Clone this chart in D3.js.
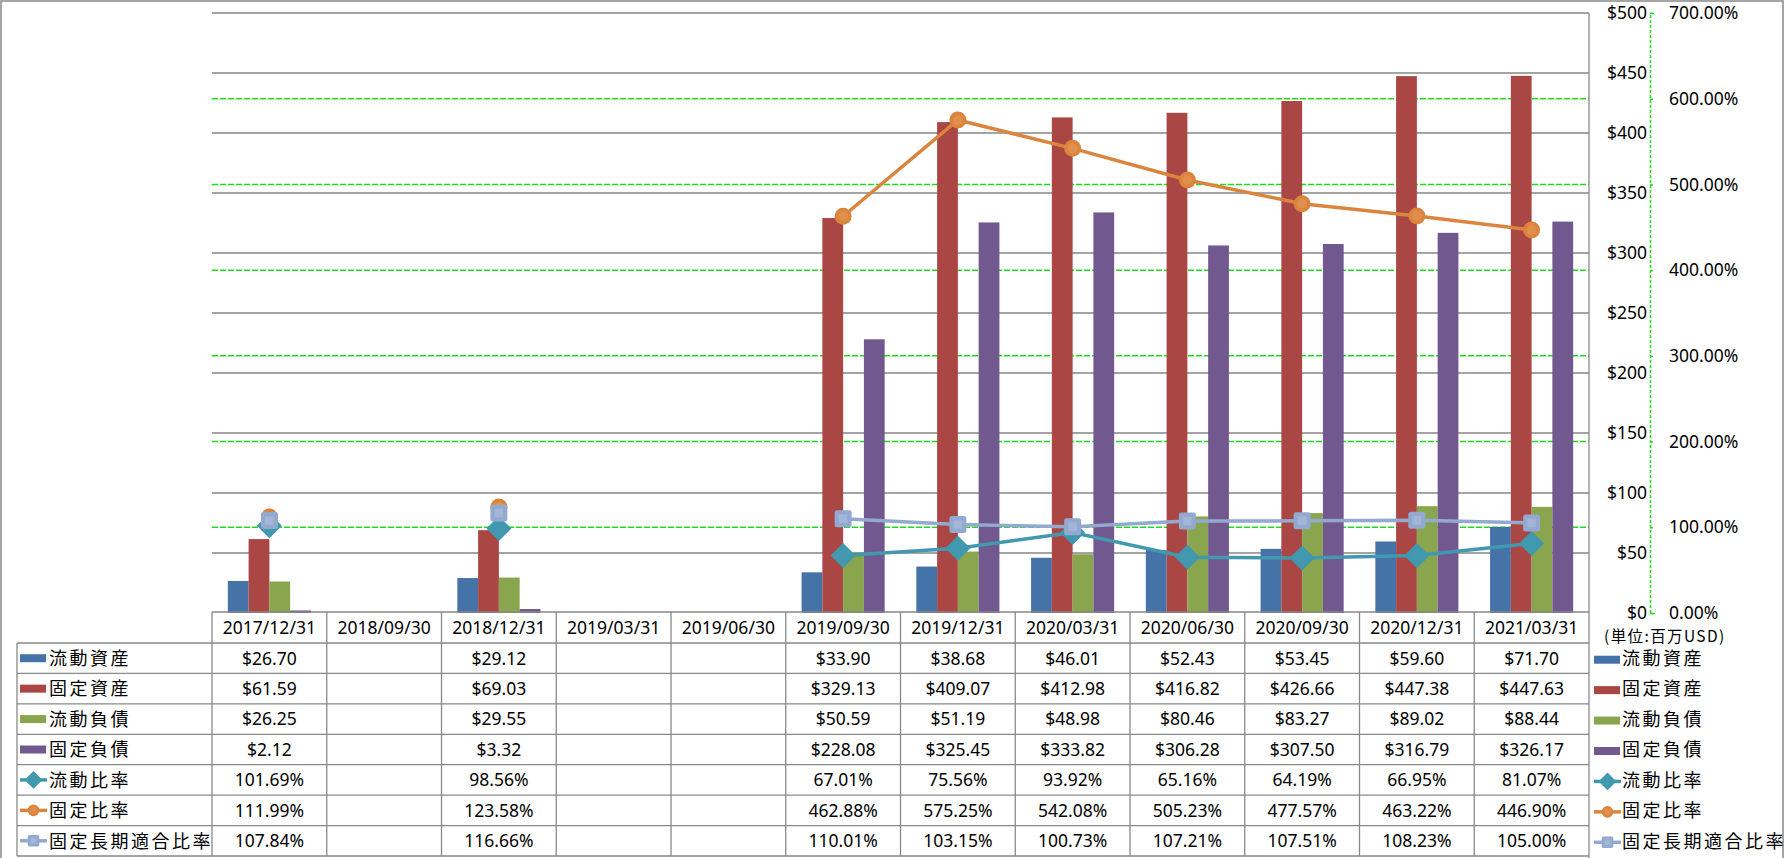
<!DOCTYPE html>
<meta charset="utf-8">
<style>
  body { margin: 0; background: #fff; }
  text { font-family: "Noto Sans", "Noto Sans CJK JP", sans-serif; font-size: 17.5px; fill: #000; }
  .jp { font-family: "Noto Sans CJK JP", sans-serif; font-size: 18px; letter-spacing: 2.5px; }
  .grid line { stroke: #868686; stroke-width: 1.5px; }
  .grid2 line { stroke: #19e019; stroke-width: 1.5px; stroke-dasharray: 6,2; }
  .table line { stroke: #898989; stroke-width: 1.3px; }
  .axis2 path, .axis2 line { stroke: #19e019; stroke-width: 1.5px; stroke-dasharray: 3,2; }
</style>
<svg width="1789" height="858"></svg>
<script src="https://d3js.org/d3.v7.min.js"></script>
<script>
  var dates = ["2017/12/31", "2018/09/30", "2018/12/31", "2019/03/31", "2019/06/30", "2019/09/30",
    "2019/12/31", "2020/03/31", "2020/06/30", "2020/09/30", "2020/12/31", "2021/03/31"];

  // 百万USD
  var currentAssets = [26.70, null, 29.12, null, null, 33.90, 38.68, 46.01, 52.43, 53.45, 59.60, 71.70];
  var fixedAssets = [61.59, null, 69.03, null, null, 329.13, 409.07, 412.98, 416.82, 426.66, 447.38, 447.63];
  var currentLiab = [26.25, null, 29.55, null, null, 50.59, 51.19, 48.98, 80.46, 83.27, 89.02, 88.44];
  var fixedLiab = [2.12, null, 3.32, null, null, 228.08, 325.45, 333.82, 306.28, 307.50, 316.79, 326.17];

  // %
  var currentRatio = [101.69, null, 98.56, null, null, 67.01, 75.56, 93.92, 65.16, 64.19, 66.95, 81.07];
  var fixedRatio = [111.99, null, 123.58, null, null, 462.88, 575.25, 542.08, 505.23, 477.57, 463.22, 446.90];
  var fixedLongRatio = [107.84, null, 116.66, null, null, 110.01, 103.15, 100.73, 107.21, 107.51, 108.23, 105.00];

  var moneyTicks = [0, 50, 100, 150, 200, 250, 300, 350, 400, 450, 500];
  var pctTicks = [0, 100, 200, 300, 400, 500, 600, 700];

  var bars = [
    { name: "流動資産", values: currentAssets, color: "#4572A7" },
    { name: "固定資産", values: fixedAssets, color: "#AA4643" },
    { name: "流動負債", values: currentLiab, color: "#89A54E" },
    { name: "固定負債", values: fixedLiab, color: "#71588F" }
  ];
  var lines = [
    { name: "流動比率", values: currentRatio, color: "#4198AF", marker: "diamond" },
    { name: "固定比率", values: fixedRatio, color: "#DB843D", marker: "circle" },
    { name: "固定長期適合比率", values: fixedLongRatio, color: "#93A9CF", marker: "square" }
  ];

  var svg = d3.select("svg");
  var plotLeft = 212, plotRight = 1589, plotTop = 13, plotBottom = 613;
  var tableLeft = 17, rowH = 30.43, headTop = 612, headBottom = 643;

  var x = d3.scaleBand().domain(dates).range([plotLeft, plotRight]);
  var inner = d3.scaleBand().domain(bars.map(function(d) { return d.name; }))
    .range([0, x.bandwidth() * 0.724]);
  var offset = (x.bandwidth() - inner.range()[1]) / 2;
  var y = d3.scaleLinear().domain([0, 500]).range([plotBottom, plotTop]);
  var y2 = d3.scaleLinear().domain([0, 700]).range([plotBottom, plotTop]);

  // outer border
  svg.append("rect")
    .attr("x", 1).attr("y", 1).attr("width", 1782).attr("height", 858)
    .attr("fill", "none").attr("stroke", "#868686").attr("stroke-width", 1.5);

  // gridlines
  svg.append("g").attr("class", "grid2")
    .selectAll("line")
    .data(pctTicks.filter(function(d) { return d > 0 && d < 700; }))
    .enter().append("line")
    .attr("x1", plotLeft).attr("x2", plotRight)
    .attr("y1", function(d) { return y2(d); })
    .attr("y2", function(d) { return y2(d); });

  svg.append("g").attr("class", "grid")
    .selectAll("line")
    .data(moneyTicks.filter(function(d) { return d > 0; }))
    .enter().append("line")
    .attr("x1", plotLeft).attr("x2", plotRight)
    .attr("y1", function(d) { return y(d); })
    .attr("y2", function(d) { return y(d); });

  // axes
  var ax1 = svg.append("g")
    .attr("transform", "translate(1652,0)")
    .call(d3.axisLeft(y).tickValues(moneyTicks).tickSize(0).tickPadding(5)
      .tickFormat(function(d) { return "$" + d; }));
  ax1.select(".domain").remove();

  var ax2 = svg.append("g").attr("class", "axis2")
    .attr("transform", "translate(1650,0)")
    .call(d3.axisRight(y2).tickValues(pctTicks).tickSize(5).tickPadding(14)
      .tickFormat(function(d) { return d.toFixed(2) + "%"; }));

  svg.selectAll(".tick text")
    .attr("font-family", null).attr("font-size", null).attr("fill", "#000");

  // bars
  bars.forEach(function(s) {
    svg.append("g")
      .selectAll("rect")
      .data(dates.map(function(d, i) { return { date: d, v: s.values[i] }; })
        .filter(function(d) { return d.v != null; }))
      .enter().append("rect")
      .attr("x", function(d) { return x(d.date) + offset + inner(s.name); })
      .attr("width", inner.bandwidth())
      .attr("y", function(d) { return y(d.v); })
      .attr("height", function(d) { return plotBottom - y(d.v); })
      .attr("fill", s.color);
  });

  function drawMarker(g, type, color, k) {
    if (type == "diamond") {
      var s = 11.5 * k;
      g.append("path")
        .attr("d", "M0," + (-s) + "L" + s + ",0L0," + s + "L" + (-s) + ",0Z")
        .attr("fill", color).attr("stroke", color).attr("stroke-width", 1.5)
        .attr("stroke-linejoin", "round");
    } else if (type == "circle") {
      g.append("circle").attr("r", 8.5 * k).attr("fill", color);
      g.append("circle").attr("r", 5 * k).attr("fill", "#E08F4C");
    } else {
      var a = 17 * k;
      g.append("rect").attr("x", -a / 2).attr("y", -a / 2)
        .attr("width", a).attr("height", a).attr("rx", 2.5 * k).attr("fill", color);
      g.append("rect").attr("x", -a / 4).attr("y", -a / 4)
        .attr("width", a / 2).attr("height", a / 2).attr("fill", "#A2B6D8");
    }
  }

  function cx(d) { return x(d) + x.bandwidth() / 2; }

  var line = d3.line()
    .defined(function(d) { return d.v != null; })
    .x(function(d) { return cx(d.date); })
    .y(function(d) { return y2(d.v); });

  lines.forEach(function(s) {
    var pts = dates.map(function(d, i) { return { date: d, v: s.values[i] }; });
    svg.append("path")
      .datum(pts)
      .attr("d", line)
      .attr("fill", "none")
      .attr("stroke", s.color)
      .attr("stroke-width", 3.5);
    pts.filter(function(d) { return d.v != null; }).forEach(function(d) {
      var g = svg.append("g").attr("transform", "translate(" + cx(d.date) + "," + y2(d.v) + ")");
      drawMarker(g, s.marker, s.color, 1);
    });
  });

  // data table
  var rows = bars.map(function(s) {
    return { name: s.name, color: s.color, values: s.values, kind: "bar",
      fmt: function(v) { return "$" + v.toFixed(2); } };
  }).concat(lines.map(function(s) {
    return { name: s.name, color: s.color, values: s.values, kind: "line", marker: s.marker,
      fmt: function(v) { return v.toFixed(2) + "%"; } };
  }));

  var tableBottom = headBottom + rows.length * rowH;
  var tbl = svg.append("g").attr("class", "table");

  tbl.append("line").attr("x1", plotLeft).attr("x2", plotRight).attr("y1", headTop).attr("y2", headTop);
  rows.forEach(function(r, i) {
    var yy = headBottom + i * rowH;
    tbl.append("line").attr("x1", tableLeft).attr("x2", plotRight).attr("y1", yy).attr("y2", yy);
  });
  tbl.append("line").attr("x1", tableLeft).attr("x2", plotRight).attr("y1", tableBottom).attr("y2", tableBottom);
  tbl.append("line").attr("x1", tableLeft).attr("x2", tableLeft).attr("y1", headBottom).attr("y2", tableBottom);
  dates.forEach(function(d) {
    tbl.append("line").attr("x1", x(d)).attr("x2", x(d)).attr("y1", headTop).attr("y2", tableBottom);
  });
  tbl.append("line").attr("x1", plotRight).attr("x2", plotRight).attr("y1", plotTop).attr("y2", 858);

  // header dates
  svg.append("g").selectAll("text")
    .data(dates).enter().append("text")
    .attr("x", cx)
    .attr("y", (headTop + headBottom) / 2 + 6.3)
    .attr("text-anchor", "middle")
    .text(function(d) { return d; });

  function legendKey(g, r) {
    if (r.kind == "bar") {
      g.append("rect").attr("x", 0).attr("y", -4).attr("width", 26).attr("height", 8).attr("fill", r.color);
    } else {
      g.append("line").attr("x1", 0).attr("x2", 27).attr("y1", 0).attr("y2", 0)
        .attr("stroke", r.color).attr("stroke-width", 3.5);
      var m = g.append("g").attr("transform", "translate(13.5,0)");
      drawMarker(m, r.marker, r.color, 0.68);
    }
  }

  rows.forEach(function(r, i) {
    var yc = headBottom + (i + 0.5) * rowH;
    legendKey(svg.append("g").attr("transform", "translate(20," + yc + ")"), r);
    svg.append("text").attr("class", "jp").attr("x", 49).attr("y", yc + 6.8).text(r.name);

    legendKey(svg.append("g").attr("transform", "translate(1594," + (yc + 1.5) + ")"), r);
    svg.append("text").attr("class", "jp").attr("x", 1622).attr("y", yc + 6.8).text(r.name);

    dates.forEach(function(d, j) {
      var v = r.values[j];
      if (v == null) return;
      svg.append("text")
        .attr("x", cx(d))
        .attr("y", yc + 6.3)
        .attr("text-anchor", "middle")
        .text(r.fmt(v));
    });
  });

  svg.append("text")
    .attr("x", 1604).attr("y", 641.5)
    .style("font-family", "'Noto Sans CJK JP', sans-serif")
    .style("font-size", "15.5px")
    .style("letter-spacing", "1.4px")
    .text("(単位:百万USD)");
</script>
